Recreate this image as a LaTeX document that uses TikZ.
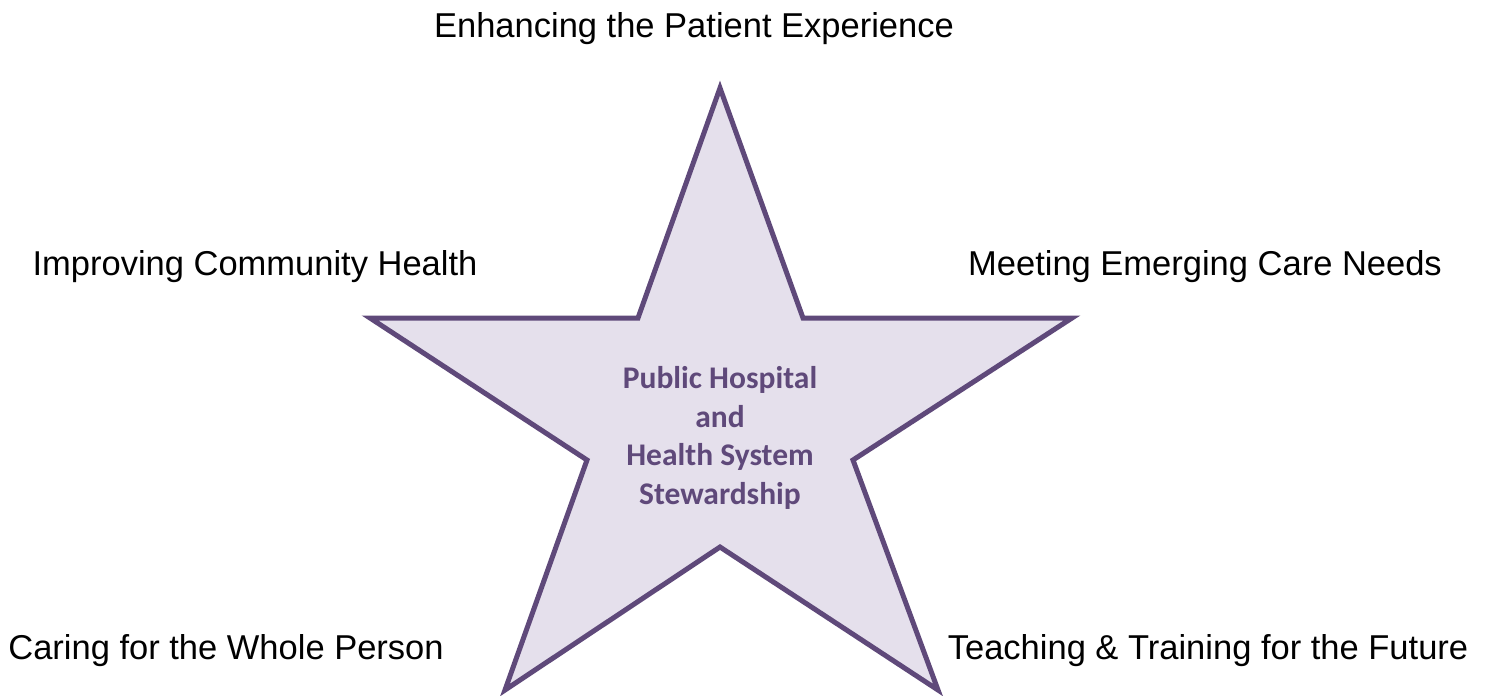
\documentclass[tikz,border=0pt]{standalone}
\usepackage{fontspec}
\setmainfont{Liberation Sans}
\newfontfamily\calfont{Carlito}
\definecolor{starline}{HTML}{5F497A}
\definecolor{starfill}{HTML}{E5E0EC}
\begin{document}
\begin{tikzpicture}[x=1pt,y=-1pt,
  lbl/.style={font=\fontsize{34.5}{40}\selectfont, inner sep=0pt, anchor=center},
  ctr/.style={font=\calfont\bfseries\fontsize{31.5}{38.5}\selectfont, text=starline, align=center, inner sep=0pt}]
\useasboundingbox (0,0) rectangle (1489,696);
\coordinate (p1) at (720,88);
\coordinate (q1) at (803,318);
\coordinate (p2) at (1072,318);
\coordinate (q2) at (853,460);
\coordinate (p3) at (938,690);
\coordinate (q3) at (720,547);
\coordinate (p4) at (505,690);
\coordinate (q4) at (587,460);
\coordinate (p5) at (370,318);
\coordinate (q5) at (638,318);
\draw[starline, fill=starfill, line width=5pt, miter limit=10]
  (p1) -- (q1) -- (p2) -- (q2) -- (p3) -- (q3) -- (p4) -- (q4) -- (p5) -- (q5) -- cycle;
\node[ctr] (c) at (720,438) {Public Hospital\\and\\Health System\\Stewardship};
\node[lbl] (t1) at (694,29) {Enhancing the Patient Experience};
\node[lbl] (t2) at (255,267) {Improving Community Health};
\node[lbl] (t3) at (1205,267) {Meeting Emerging Care Needs};
\node[lbl] (t4) at (226,651) {Caring for the Whole Person};
\node[lbl] (t5) at (1208,651) {Teaching \& Training for the Future};
\end{tikzpicture}
\end{document}
